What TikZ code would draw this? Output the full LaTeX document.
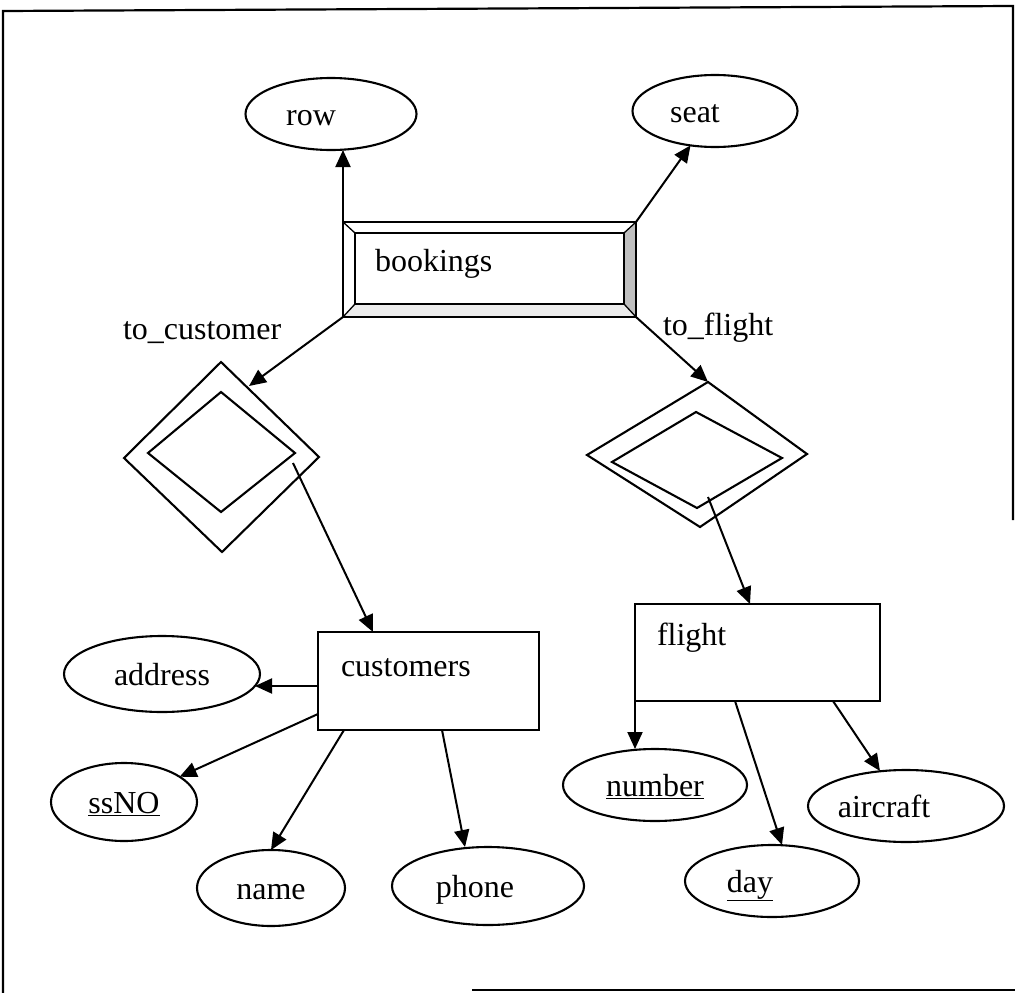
\documentclass[tikz,border=0pt]{standalone}
\usepackage{fontspec}
\setmainfont{Liberation Serif}
\usetikzlibrary{arrows.meta,shapes.geometric}
\begin{document}
\begin{tikzpicture}[x=1pt,y=-1pt,
  every node/.style={font=\fontsize{32}{38}\selectfont},
  attr/.style={draw, ellipse, line width=2.1pt, inner sep=0pt, outer sep=0pt, text height=22pt, text depth=0pt},
  ent/.style={draw, rectangle, line width=2.2pt, inner sep=0pt, outer sep=0pt},
  conn/.style={line width=2.1pt},
  arr/.style={line width=2pt, -{Triangle[length=17pt,width=15pt]}},
  lbl/.style={inner sep=0pt, outer sep=0pt},
  frame/.style={line width=2.2pt}]
\useasboundingbox (0,0) rectangle (1015,993);
% frame
\draw[frame] (3,993) -- (3,11) -- (1013,6) -- (1013,520);
\draw[frame] (472,990) -- (1015,990);

% bookings (weak entity with bevel)
\fill[gray!50] (636,222) -- (636,317) -- (624,304) -- (624,233) -- cycle;
\fill[gray!15] (343,317) -- (636,317) -- (624,304) -- (355,304) -- cycle;
\node[ent, minimum width=293pt, minimum height=95pt] (bk) at (489.5,269.5) {};
\draw[line width=2pt] (355,233) rectangle (624,304);
\draw[line width=1.3pt] (bk.north west) -- (355,233) (bk.north east) -- (624,233)
  (bk.south west) -- (355,304) (bk.south east) -- (624,304);
\node[lbl, anchor=base west] (bkt) at (375,271) {bookings};

% attributes
\node[attr, minimum width=171pt, minimum height=72pt] (row) at (331,114) {row\hspace*{40pt}};
\node[attr, minimum width=165pt, minimum height=72pt] (seat) at (715,111) {seat\hspace*{40pt}};
\node[attr, minimum width=196pt, minimum height=76pt] (address) at (162,674) {address};
\node[attr, minimum width=146pt, minimum height=78pt] (ssno) at (124,802) {\underline{ssNO}};
\node[attr, minimum width=148pt, minimum height=76pt] (name) at (271,888) {name};
\node[attr, minimum width=192pt, minimum height=78pt] (phone) at (488,886) {phone\hspace*{26pt}};
\node[attr, minimum width=184pt, minimum height=72pt] (number) at (655,785) {\underline{number}};
\node[attr, minimum width=196pt, minimum height=72pt] (aircraft) at (906,806) {aircraft\hspace*{44pt}};
\node[attr, minimum width=174pt, minimum height=72pt] (day) at (772,881) {\underline{day}\hspace*{44pt}};

% entities
\node[ent, minimum width=221pt, minimum height=98pt] (customers) at (428.5,681) {};
\node[lbl, anchor=base west] (cut) at (341,676) {customers};
\node[ent, minimum width=245pt, minimum height=97pt] (flight) at (757.5,652.5) {};
\node[lbl, anchor=base west] (flt) at (657,645) {flight};

% relationship diamonds (double)
\coordinate (dlT) at (221,362); \coordinate (dlR) at (319,457);
\coordinate (dlB) at (222,552); \coordinate (dlL) at (124,458);
\draw[conn] (dlT) -- (dlR) -- (dlB) -- (dlL) -- cycle;
\draw[conn] (221,392) -- (295,453) -- (221,512) -- (148,453) -- cycle;
\coordinate (drT) at (708,382); \coordinate (drR) at (807,454);
\coordinate (drB) at (700,527); \coordinate (drL) at (587,455);
\draw[conn] (drT) -- (drR) -- (drB) -- (drL) -- cycle;
\draw[conn] (696,412) -- (782,458) -- (697,508) -- (612,462) -- cycle;

\node[lbl, anchor=base west] (tocust) at (123,339) {to\_customer};
\node[lbl, anchor=base west] (toflt) at (663,335) {to\_flight};

% connectors
\draw[arr] (bk.north west) -- (bk.north west |- row.south);
\draw[arr] (bk.north east) -- (seat);
\coordinate (dlIn) at (249,386);
\draw[arr] (bk.south west) -- (dlIn);
\draw[arr] (bk.south east) -- (drT);
\coordinate (dlOut) at (293,463); \coordinate (cuIn) at (373,632);
\draw[arr] (dlOut) -- (cuIn);
\coordinate (drOut) at (708,497); \coordinate (flIn) at (750,604);
\draw[arr] (drOut) -- (flIn);

\coordinate (cuA) at (318,686); \coordinate (adIn) at (255,686);
\draw[arr] (cuA) -- (adIn);
\coordinate (cuS) at (318,714);
\draw[arr] (cuS) -- (ssno);
\coordinate (cuN) at (344,730);
\draw[arr] (cuN) -- (name.north);
\coordinate (cuP) at (442,730); \coordinate (phIn) at (465,847);
\draw[arr] (cuP) -- (phIn);

\draw[arr] (flight.south west) -- (flight.south west |- number.north);
\coordinate (flD) at (735,701); \coordinate (dyIn) at (782,845);
\draw[arr] (flD) -- (dyIn);
\coordinate (flA) at (833,701); \coordinate (acIn) at (880,771);
\draw[arr] (flA) -- (acIn);
\end{tikzpicture}
\end{document}
